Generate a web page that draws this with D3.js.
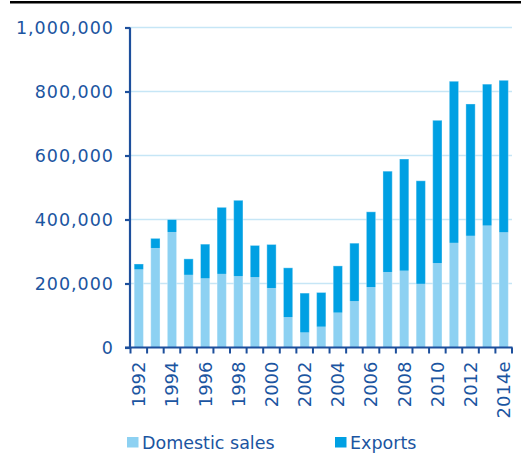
<!DOCTYPE html>
<html><head><meta charset="utf-8">
<script src="https://cdn.jsdelivr.net/npm/d3@7"></script>
<style>
html,body{margin:0;padding:0;background:#fff;}
svg{display:block;}
text{font-family:"DejaVu Sans",sans-serif;fill:#1b55a1;}
</style></head>
<body>
<svg id="chart" width="521" height="457"></svg>
<script>
const years = ["1992","1993","1994","1995","1996","1997","1998","1999","2000","2001","2002","2003","2004","2005","2006","2007","2008","2009","2010","2011","2012","2013","2014e"];
const domestic = [244000,311000,361000,227000,216000,230000,223000,220000,186000,95000,47000,65000,109000,145000,189000,236000,240000,199000,264000,327000,349000,381000,360000];
const exportsV = [17000,30000,39000,50000,107000,208000,237000,99000,136000,154000,123000,107000,146000,181000,235000,315000,349000,322000,446000,505000,412000,442000,475000];
const yTicks = [0,200000,400000,600000,800000,1000000];
const xLabels = ["1992","1994","1996","1998","2000","2002","2004","2006","2008","2010","2012","2014e"];
const seriesNames = ["Domestic sales","Exports"];
const colors = ["#8dd1f2","#00a0e3"];

const svg = d3.select("#chart");
const axisColor = "#1d4f9c";

// top rule
svg.append("rect").attr("x",10).attr("y",1).attr("width",511).attr("height",2.5).attr("fill","#000");

const x = d3.scaleBand().domain(years).range([130.5,512]).padding(0);
const y = d3.scaleLinear().domain([0,1000000]).range([347.5,27.5]);

// gridlines
svg.append("g").selectAll("line").data(yTicks.slice(1)).join("line")
  .attr("x1",130).attr("x2",512)
  .attr("y1",d=>y(d)).attr("y2",d=>y(d))
  .attr("stroke","#c6e6f6").attr("stroke-width",1.5);

const data = years.map((yr,i)=>({yr, d:domestic[i], e:exportsV[i]}));
const bw = x.step()*0.56;
const off = (x.step()-bw)/2;

const bars = svg.append("g");
bars.selectAll("rect.dom").data(data).join("rect").attr("class","dom")
  .attr("x",d=>x(d.yr)+off).attr("width",bw)
  .attr("y",d=>y(d.d)).attr("height",d=>y(0)-y(d.d))
  .attr("fill",colors[0]);
bars.selectAll("rect.exp").data(data).join("rect").attr("class","exp")
  .attr("x",d=>x(d.yr)+off).attr("width",bw)
  .attr("y",d=>y(d.d+d.e)).attr("height",d=>y(d.d)-y(d.d+d.e))
  .attr("fill",colors[1]);
bars.selectAll("rect.edge").data(data).join("rect").attr("class","edge")
  .attr("x",d=>x(d.yr)+off).attr("width",bw)
  .attr("y",d=>y(d.d+d.e)).attr("height",d=>y(0)-y(d.d+d.e))
  .attr("fill","none").attr("stroke","#ffffff").attr("stroke-opacity",0.35).attr("stroke-width",1);

// y axis
const yAxis = svg.append("g").attr("transform","translate(130,0)")
  .call(d3.axisLeft(y).tickValues(yTicks).tickSize(5).tickPadding(12)
    .tickFormat(d3.format(",")));
yAxis.select(".domain").attr("stroke",axisColor).attr("stroke-width",2.2).attr("d","M0,27.5V349");
yAxis.selectAll(".tick line").attr("stroke",axisColor).attr("stroke-width",2.2);
yAxis.selectAll(".tick text").attr("fill","#1b55a1").style("font-size","17.5px")
  .style("letter-spacing","1px").attr("dy","0.36em").attr("x",-16);

// x axis
const xAxis = svg.append("g").attr("transform","translate(0,347.5)");
xAxis.append("line").attr("x1",125).attr("x2",512.5).attr("y1",0).attr("y2",0)
  .attr("stroke",axisColor).attr("stroke-width",2.2);
const tickPos = years.map(yr=>x(yr)).concat([x(years[years.length-1])+x.step()]);
xAxis.selectAll("line.t").data(tickPos).join("line").attr("class","t")
  .attr("x1",d=>d).attr("x2",d=>d).attr("y1",0).attr("y2",6)
  .attr("stroke",axisColor).attr("stroke-width",2);
xAxis.selectAll("text").data(xLabels).join("text")
  .attr("transform",d=>`translate(${x(d)+x.step()/2},14) rotate(-90)`)
  .attr("text-anchor","end").attr("dy","0.36em")
  .style("font-size","18px").text(d=>d);

// legend
const leg = svg.append("g");
const legX = [127,335];
seriesNames.forEach((n,i)=>{
  leg.append("rect").attr("x",legX[i]).attr("y",437).attr("width",11.5).attr("height",10.5).attr("fill",colors[i]);
  leg.append("text").attr("x",legX[i]+15).attr("y",448.5).style("font-size","17.5px").text(n);
});
</script>
</body></html>
